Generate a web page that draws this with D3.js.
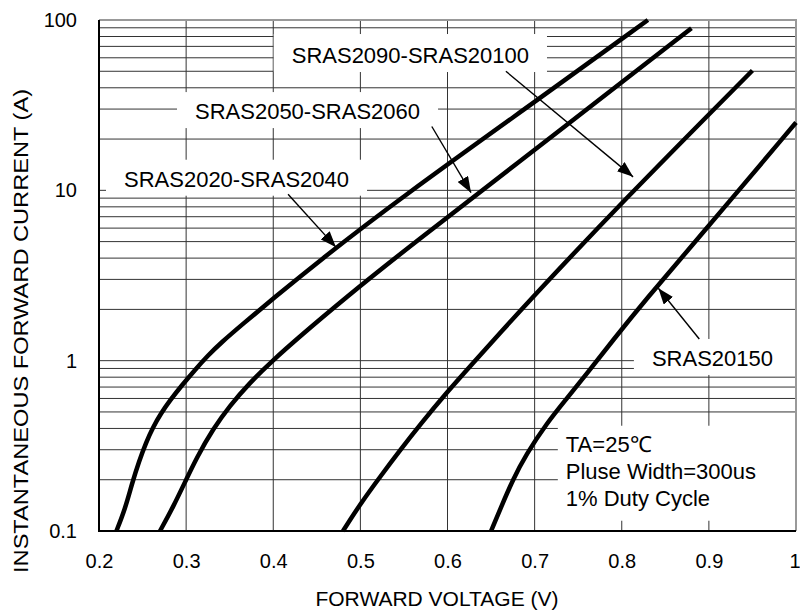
<!DOCTYPE html>
<html>
<head>
<meta charset="utf-8">
<script src="https://cdn.jsdelivr.net/npm/d3@7"></script>
<style>
  body { margin: 0; background: #fff; }
  svg { display: block; font-family: "Liberation Sans", Arial, sans-serif; }
</style>
</head>
<body>
<div id="chart"></div>
<script>
// axis ticks
const voltTicks = [0.2, 0.3, 0.4, 0.5, 0.6, 0.7, 0.8, 0.9, 1.0];
const currentTicks = [0.1, 1, 10, 100];

// forward voltage (V) vs instantaneous forward current (A)
const sras2020Volt = [0.220, 0.230, 0.238, 0.246, 0.254, 0.262, 0.271, 0.282, 0.295, 0.310, 0.325, 0.340, 0.365, 0.400, 0.450, 0.546, 0.710, 0.830];
const sras2020Current = [0.1, 0.135, 0.191, 0.257, 0.331, 0.407, 0.490, 0.589, 0.716, 0.881, 1.072, 1.274, 1.641, 2.317, 3.758, 9.02, 35.9, 100];

const sras2050Volt = [0.270, 0.285, 0.299, 0.312, 0.331, 0.350, 0.373, 0.398, 0.431, 0.482, 0.546, 0.737, 0.880];
const sras2050Current = [0.1, 0.138, 0.195, 0.269, 0.398, 0.543, 0.741, 0.989, 1.396, 2.317, 4.266, 24.2, 89.5];

const sras2090Volt = [0.480, 0.500, 0.523, 0.546, 0.569, 0.599, 0.630, 0.662, 0.695, 0.800, 0.950];
const sras2090Current = [0.1, 0.1445, 0.2094, 0.2999, 0.4236, 0.650, 0.977, 1.486, 2.280, 8.51, 50.5];

const sras20150Volt = [0.650, 0.662, 0.675, 0.690, 0.714, 0.737, 0.760, 0.790, 0.827, 0.886, 1.0];
const sras20150Current = [0.1, 0.14, 0.2, 0.28, 0.43, 0.60, 0.84, 1.32, 2.27, 5.1, 25];

// curve labels: text start + arrow from/to, in chart units
const labelText = ["SRAS2090-SRAS20100", "SRAS2050-SRAS2060", "SRAS2020-SRAS2040", "SRAS20150"];
const labelVolt = [0.4212, 0.3102, 0.2287, 0.8346];
const labelCurrent = [55.9, 26.2, 10.5, 0.931];
const arrowFromVolt = [0.667, 0.582, 0.417, 0.889];
const arrowFromCurrent = [50.0, 23.7, 9.48, 1.34];
const arrowToVolt = [0.813, 0.627, 0.472, 0.842];
const arrowToCurrent = [12.0, 9.69, 4.64, 2.66];

const noteLines = ["TA=25\u2103", "Pluse Width=300us", "1% Duty Cycle"];
const noteVolt = 0.7358;
const noteCurrent = 0.292;

const width = 800;
const height = 614;
const margin = { top: 20, right: 4, bottom: 83, left: 99 };
const plotRight = width - margin.right;
const plotBottom = height - margin.bottom;

const x = d3.scaleLinear().domain([0.2, 1]).range([margin.left, plotRight]);
const y = d3.scaleLog().domain([0.1, 100]).range([plotBottom, margin.top]);

const svg = d3.select("#chart")
  .append("svg")
  .attr("width", width)
  .attr("height", height);

svg.append("defs")
  .append("marker")
  .attr("id", "head")
  .attr("markerUnits", "userSpaceOnUse")
  .attr("viewBox", "0 0 16 12")
  .attr("refX", 16)
  .attr("refY", 6)
  .attr("markerWidth", 16)
  .attr("markerHeight", 12)
  .attr("orient", "auto")
  .append("path")
  .attr("d", "M0,0L16,6L0,12Z")
  .attr("fill", "#000");

// grid
const grid = svg.append("g").attr("stroke", "#333").attr("stroke-width", 1);

grid.selectAll(".h")
  .data(y.ticks())
  .join("line")
  .attr("x1", margin.left)
  .attr("x2", plotRight)
  .attr("y1", (d) => y(d))
  .attr("y2", (d) => y(d));

grid.selectAll(".v")
  .data(voltTicks.slice(1, -1))
  .join("line")
  .attr("x1", (d) => x(d))
  .attr("x2", (d) => x(d))
  .attr("y1", margin.top)
  .attr("y2", plotBottom);

// white boxes behind labels (filled in once text is measured)
const boxLayer = svg.append("g");

// frame
svg.append("path")
  .attr("d", `M${margin.left},${margin.top}H${plotRight}V${plotBottom}`)
  .attr("fill", "none")
  .attr("stroke", "#999")
  .attr("stroke-width", 2);
svg.append("path")
  .attr("d", `M${margin.left},${margin.top}V${plotBottom}H${plotRight}`)
  .attr("fill", "none")
  .attr("stroke", "#000")
  .attr("stroke-width", 2);

// curves
const series = [
  [sras2020Volt, sras2020Current],
  [sras2050Volt, sras2050Current],
  [sras2090Volt, sras2090Current],
  [sras20150Volt, sras20150Current],
].map(([vs, is]) => vs.map((v, k) => ({ v, i: is[k] })));

const line = d3.line()
  .x((d) => x(d.v))
  .y((d) => y(d.i))
  .curve(d3.curveBasis);

svg.append("g")
  .selectAll("path")
  .data(series)
  .join("path")
  .attr("d", line)
  .attr("fill", "none")
  .attr("stroke", "#000")
  .attr("stroke-width", 4.5);

// axes
const fmt = d3.format("~g");

svg.append("g")
  .attr("transform", `translate(0,${plotBottom})`)
  .call(d3.axisBottom(x).tickValues(voltTicks).tickSize(0).tickFormat(fmt))
  .call((g) => g.select(".domain").remove())
  .attr("font-family", null)
  .attr("font-size", 20)
  .selectAll("text")
  .attr("y", 37)
  .attr("dy", 0)
  .attr("fill", "#000")
  // last label sits against the page edge
  .filter((d) => d === 1)
  .attr("text-anchor", "end")
  .attr("x", width - plotRight);

svg.append("g")
  .attr("transform", `translate(${margin.left},0)`)
  .call(d3.axisLeft(y).tickValues(currentTicks).tickSize(0).tickFormat(fmt))
  .call((g) => g.select(".domain").remove())
  .attr("font-family", null)
  .attr("font-size", 20)
  .selectAll("text")
  .attr("x", -22)
  .attr("fill", "#000");

svg.append("text")
  .attr("x", 437)
  .attr("y", 606)
  .attr("text-anchor", "middle")
  .attr("font-size", 21)
  .text("FORWARD VOLTAGE (V)");

svg.append("text")
  .attr("transform", "translate(28,331) rotate(-90)")
  .attr("text-anchor", "middle")
  .attr("font-size", 21)
  .attr("textLength", 484)
  .attr("lengthAdjust", "spacingAndGlyphs")
  .text("INSTANTANEOUS FORWARD CURRENT (A)");

// labels + arrows
const labels = labelText.map((t, k) => ({
  t,
  x: x(labelVolt[k]),
  y: y(labelCurrent[k]),
  x1: x(arrowFromVolt[k]),
  y1: y(arrowFromCurrent[k]),
  x2: x(arrowToVolt[k]),
  y2: y(arrowToCurrent[k]),
}));

const labelNodes = svg.append("g")
  .attr("font-size", 22)
  .selectAll("text")
  .data(labels)
  .join("text")
  .attr("x", (d) => d.x)
  .attr("y", (d) => d.y)
  .text((d) => d.t);

svg.append("g")
  .selectAll("line")
  .data(labels)
  .join("line")
  .attr("x1", (d) => d.x1)
  .attr("y1", (d) => d.y1)
  .attr("x2", (d) => d.x2)
  .attr("y2", (d) => d.y2)
  .attr("stroke", "#000")
  .attr("stroke-width", 1.4)
  .attr("marker-end", "url(#head)");

const note = svg.append("text")
  .attr("font-size", 22)
  .attr("x", x(noteVolt))
  .attr("y", y(noteCurrent));
note.selectAll("tspan")
  .data(noteLines)
  .join("tspan")
  .attr("x", x(noteVolt))
  .attr("dy", (d, k) => (k === 0 ? 0 : 27))
  .text((d) => d);

// boxes sized from the measured text
function addBox(b, pl, pr, pt, pb) {
  const x0 = b.x - pl;
  let x1 = b.x + b.width + pr;
  if (x1 > plotRight - 12) x1 = plotRight;
  boxLayer.append("rect")
    .attr("x", x0)
    .attr("y", b.y - pt)
    .attr("width", x1 - x0)
    .attr("height", b.height + pt + pb)
    .attr("fill", "#fff");
}

labelNodes.each(function (d, k) {
  addBox(this.getBBox(), 18, 18, k === 0 ? 9 : 7, 4);
});
addBox(note.node().getBBox(), 8, 30, 6, 10);
</script>
</body>
</html>
